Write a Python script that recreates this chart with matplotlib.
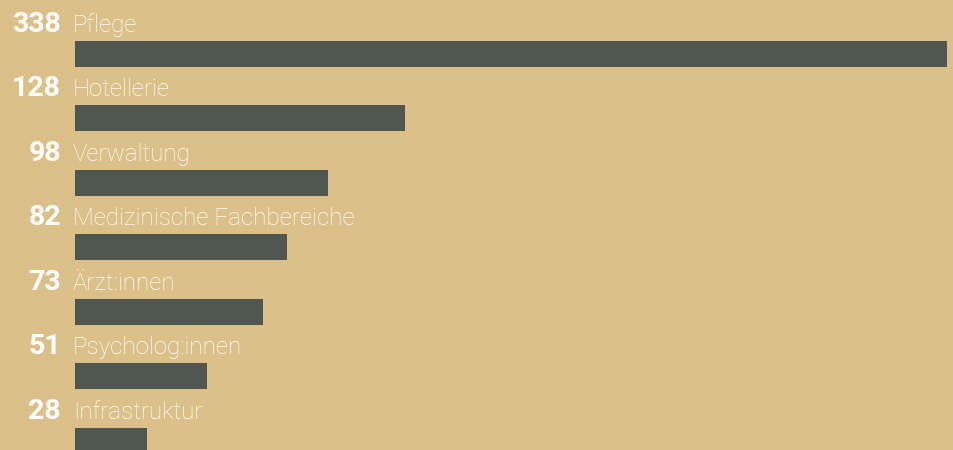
import matplotlib
matplotlib.use("Agg")
import matplotlib.pyplot as plt

# Daten
categories = ["Pflege", "Hotellerie", "Verwaltung", "Medizinische Fachbereiche",
              "Ärzt:innen", "Psycholog:innen", "Infrastruktur"]
values = [338, 128, 98, 82, 73, 51, 28]

bg = "#dbc08a"
bar_color = "#4f5750"

fig = plt.figure(figsize=(9.54, 4.5), dpi=100, facecolor=bg)
ax = fig.add_axes([0, 0, 1, 1])
ax.set_facecolor(bg)

px = 2.58          # pixel je Einheit
row = 64.5         # pixel je Zeile
ys = list(range(len(categories)))

ax.barh(ys, values, height=26 / row, color=bar_color, left=0)
for i, (c, v) in enumerate(zip(categories, values)):
    yb = i - 22 / row
    ax.text(-14 / px, yb, str(v), ha="right", va="baseline", color="white",
            fontsize=20.5, fontweight="bold", family="Roboto")
    ax.text(-2 / px, yb, c, ha="left", va="baseline", color="white",
            fontsize=17.4, fontweight="light", family="Roboto")

ax.set_xlim(-75 / px, (954 - 75) / px)
ax.set_ylim((450 - 54) / row, -54 / row)
ax.axis("off")

fig.savefig("out.png", dpi=100, facecolor=bg)
